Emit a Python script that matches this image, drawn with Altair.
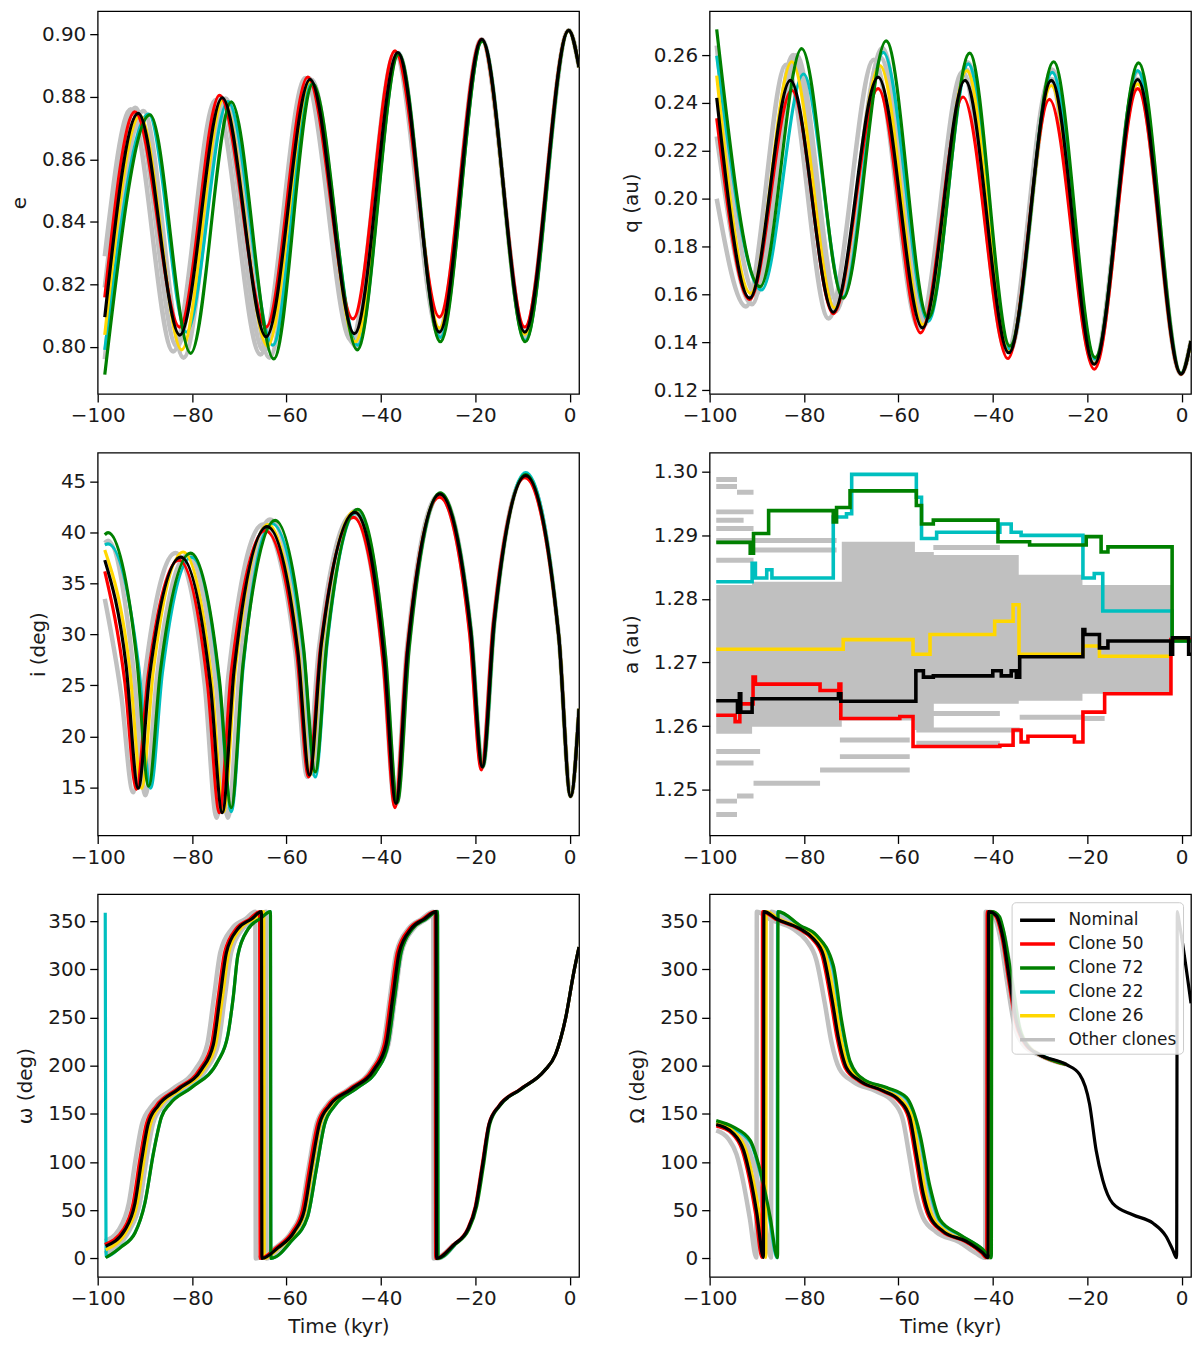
import altair as alt
import pandas as pd

# ---------------- shared ----------------
X_TICKS = [-100, -80, -60, -40, -20, 0]
X_DOMAIN = [-100, 2.0]
SERIES = ["Nominal", "Clone 50", "Clone 72", "Clone 22", "Clone 26", "Other clones"]
COLORS = ["#000000", "#ff0000", "#008000", "#00bfbf", "#ffd700", "#c0c0c0"]
DRAW_ORDER = ["Clone 22", "Clone 26", "Clone 50", "Clone 72", "Nominal"]

# ---------------- eccentricity e ----------------
E_NOM = [(-98.5,0.8095),(-91.4,0.8747),(-82.6,0.8037),(-73.6,0.8797),(-64.3,0.8032),(-55.0,0.8856),(-45.6,0.8042),(-36.4,0.8942),(-27.6,0.8047),(-18.6,0.8984),(-9.5,0.8047),(-0.2,0.9013),(2.0,0.8895)]
E_C50 = [(-98.5,0.8158),(-92.1,0.8752),(-82.6,0.8063),(-74.2,0.8805),(-64.3,0.8063),(-55.5,0.8863),(-45.9,0.8089),(-37.0,0.8947),(-27.6,0.8095),(-18.7,0.8984),(-9.5,0.8063),(-0.2,0.9013),(2.0,0.8895)]
E_C72 = [(-98.5,0.7911),(-88.9,0.8742),(-80.3,0.7979),(-71.7,0.8784),(-62.7,0.7961),(-54.4,0.8842),(-45.0,0.7990),(-36.2,0.8937),(-27.4,0.8016),(-18.5,0.8978),(-9.4,0.8016),(-0.2,0.9013),(2.0,0.8895)]
E_C22 = [(-98.5,0.7990),(-89.2,0.8745),(-81.2,0.8047),(-72.4,0.8785),(-62.9,0.8005),(-54.8,0.8850),(-44.9,0.8005),(-36.3,0.8940),(-27.4,0.8030),(-18.5,0.8980),(-9.4,0.8020),(-0.2,0.9013),(2.0,0.8895)]
E_C26 = [(-98.5,0.8038),(-91.0,0.8740),(-82.2,0.7990),(-73.4,0.8790),(-64.0,0.8002),(-55.0,0.8850),(-45.4,0.8016),(-36.4,0.8940),(-27.6,0.8060),(-18.6,0.8982),(-9.5,0.8040),(-0.2,0.9013),(2.0,0.8895)]
E_G1 = [(-98.5,0.8290),(-93.0,0.8760),(-84.0,0.7985),(-75.0,0.8790),(-65.5,0.7975),(-56.0,0.8860),(-46.3,0.8020),(-37.0,0.8940),(-27.8,0.8050),(-18.7,0.8984),(-9.5,0.8047),(-0.2,0.9013),(2.0,0.8895)]
E_G2 = [(-98.5,0.7960),(-90.3,0.8755),(-81.8,0.7965),(-72.9,0.8795),(-63.6,0.7965),(-54.7,0.8855),(-45.3,0.8000),(-36.3,0.8940),(-27.5,0.8030),(-18.6,0.8982),(-9.4,0.8030),(-0.2,0.9013),(2.0,0.8895)]
E_G3 = [(-98.5,0.8190),(-92.0,0.8765),(-83.2,0.8000),(-74.0,0.8800),(-64.8,0.7985),(-55.3,0.8860),(-45.8,0.8010),(-36.6,0.8940),(-27.6,0.8040),(-18.6,0.8984),(-9.5,0.8045),(-0.2,0.9013),(2.0,0.8895)]

# ---------------- perihelion q ----------------
Q_NOM = [(-98.5,0.2421),(-91.5,0.1585),(-82.9,0.2494),(-73.8,0.1526),(-64.3,0.2508),(-54.9,0.1461),(-45.9,0.2494),(-36.6,0.1357),(-27.6,0.2494),(-18.5,0.1309),(-9.3,0.2498),(-0.1,0.1268),(2.0,0.1406)]
Q_C50 = [(-98.5,0.2336),(-91.5,0.1580),(-82.6,0.2453),(-73.8,0.1520),(-64.3,0.2460),(-55.3,0.1440),(-46.3,0.2425),(-36.8,0.1333),(-28.0,0.2415),(-18.5,0.1288),(-9.3,0.2460),(-0.1,0.1268),(2.0,0.1406)]
Q_C72 = [(-98.5,0.2707),(-89.3,0.1633),(-80.5,0.2627),(-71.7,0.1585),(-62.6,0.2659),(-53.7,0.1502),(-44.9,0.2608),(-36.4,0.1385),(-27.1,0.2572),(-18.3,0.1337),(-9.1,0.2567),(-0.1,0.1270),(2.0,0.1406)]
Q_C22 = [(-98.5,0.2597),(-89.0,0.1619),(-80.1,0.2521),(-71.7,0.1590),(-63.2,0.2611),(-53.7,0.1488),(-45.2,0.2563),(-36.4,0.1370),(-27.4,0.2528),(-18.3,0.1330),(-9.3,0.2535),(-0.1,0.1270),(2.0,0.1406)]
Q_C26 = [(-98.5,0.2514),(-91.3,0.1605),(-82.6,0.2572),(-73.5,0.1543),(-63.9,0.2556),(-54.8,0.1474),(-45.5,0.2535),(-36.6,0.1360),(-27.6,0.2473),(-18.5,0.1310),(-9.3,0.2480),(-0.1,0.1268),(2.0,0.1406)]
Q_G1 = [(-98.5,0.2000),(-92.3,0.1550),(-83.8,0.2560),(-74.8,0.1500),(-65.2,0.2580),(-55.6,0.1460),(-46.4,0.2530),(-37.0,0.1360),(-27.9,0.2500),(-18.6,0.1310),(-9.4,0.2500),(-0.1,0.1268),(2.0,0.1406)]
Q_G2 = [(-98.5,0.2640),(-90.2,0.1600),(-81.6,0.2600),(-72.8,0.1560),(-63.4,0.2630),(-54.3,0.1490),(-45.3,0.2570),(-36.5,0.1370),(-27.4,0.2540),(-18.4,0.1320),(-9.2,0.2530),(-0.1,0.1270),(2.0,0.1406)]
Q_G3 = [(-98.5,0.2260),(-91.0,0.1560),(-82.3,0.2600),(-73.3,0.1530),(-63.8,0.2590),(-54.6,0.1470),(-45.6,0.2540),(-36.5,0.1360),(-27.5,0.2500),(-18.5,0.1310),(-9.3,0.2500),(-0.1,0.1268),(2.0,0.1406)]

# ---------------- inclination i ----------------
I_NOM = [(-98.5,37.3),(-94.0,27.0),(-91.4,14.9),(-89.0,26.0),(-82.4,37.6),(-76.1,25.0),(-73.6,12.5),(-71.1,26.5),(-64.1,40.6),(-57.6,28.4),(-55.1,16.2),(-52.6,29.1),(-45.5,42.0),(-39.3,27.7),(-36.8,13.4),(-34.3,28.6),(-27.5,43.8),(-21.0,30.4),(-18.5,17.0),(-16.0,31.3),(-9.3,45.6),(-2.3,29.8),(0.2,14.1),(2.0,22.7)]
I_C50 = [(-98.5,36.2),(-94.3,25.5),(-91.8,14.8),(-89.3,26.0),(-82.8,37.3),(-76.7,25.0),(-74.2,12.5),(-71.7,26.3),(-64.5,40.2),(-57.8,28.1),(-55.3,16.0),(-52.8,28.7),(-45.8,41.5),(-39.5,27.2),(-37.0,13.0),(-34.5,28.2),(-27.6,43.5),(-21.2,30.1),(-18.7,16.7),(-16.2,31.0),(-9.5,45.4),(-2.3,29.8),(0.2,14.1),(2.0,22.7)]
I_C72 = [(-98.5,39.8),(-97.8,40.0),(-91.7,27.5),(-89.2,15.1),(-86.7,26.5),(-80.3,38.0),(-74.2,25.5),(-71.7,13.0),(-69.2,27.1),(-62.4,41.2),(-56.4,28.8),(-53.9,16.5),(-51.4,29.4),(-44.9,42.3),(-39.0,27.9),(-36.5,13.5),(-34.0,28.7),(-27.4,43.9),(-20.9,30.4),(-18.4,17.0),(-15.9,31.3),(-9.3,45.7),(-2.3,29.8),(0.2,14.1),(2.0,22.7)]
I_C22 = [(-98.5,38.8),(-97.8,38.9),(-91.3,26.8),(-88.8,14.9),(-86.3,26.2),(-80.1,37.6),(-74.2,25.1),(-71.7,12.6),(-69.2,26.7),(-63.1,40.9),(-56.4,28.4),(-53.9,16.0),(-51.4,29.0),(-45.2,42.0),(-39.1,27.7),(-36.6,13.5),(-34.1,28.7),(-27.4,43.8),(-20.9,30.4),(-18.4,17.0),(-15.9,31.4),(-9.3,45.9),(-2.3,29.9),(0.2,14.1),(2.0,22.7)]
I_C26 = [(-98.5,38.3),(-93.2,26.6),(-90.7,14.9),(-88.2,26.5),(-81.9,38.1),(-75.8,25.3),(-73.3,12.6),(-70.8,26.7),(-63.9,40.8),(-57.5,28.5),(-55.0,16.2),(-52.5,29.0),(-45.6,42.1),(-39.3,27.7),(-36.8,13.4),(-34.3,28.6),(-27.5,43.8),(-21.0,30.4),(-18.5,17.0),(-16.0,31.3),(-9.3,45.6),(-2.3,29.8),(0.2,14.1),(2.0,22.7)]
I_G1 = [(-98.5,33.5),(-95.0,24.0),(-92.5,14.5),(-90.0,26.0),(-83.5,38.0),(-77.3,25.0),(-74.8,12.0),(-72.3,26.0),(-65.0,40.8),(-58.1,28.2),(-55.6,16.0),(-53.1,28.7),(-46.0,41.8),(-39.5,27.5),(-37.0,13.2),(-34.5,28.5),(-27.7,43.7),(-21.1,30.4),(-18.6,17.0),(-16.1,31.3),(-9.3,45.6),(-2.3,29.8),(0.2,14.1),(2.0,22.7)]
I_G2 = [(-98.5,39.0),(-97.8,39.2),(-92.4,26.5),(-89.9,14.2),(-87.4,26.0),(-81.0,37.8),(-74.9,25.0),(-72.4,12.0),(-69.9,26.6),(-63.5,41.3),(-56.9,28.8),(-54.4,16.3),(-51.9,29.3),(-45.2,42.2),(-39.1,27.8),(-36.6,13.4),(-34.1,28.6),(-27.4,43.8),(-20.9,30.4),(-18.4,17.0),(-15.9,31.3),(-9.3,45.7),(-2.3,29.8),(0.2,14.1),(2.0,22.7)]

# ---------------- semi-major axis a (steps) ----------------
A_NOM = [(-98.6,1.2640),(-94.1,1.2622),(-93.7,1.2651),(-93.4,1.2622),(-91.0,1.2643),(-72.7,1.2651),(-72.2,1.2639),(-56.3,1.2687),(-54.7,1.2677),(-52.6,1.2679),(-40.0,1.2687),(-38.2,1.2679),(-36.1,1.2687),(-35.0,1.2677),(-34.3,1.2709),(-20.9,1.2752),(-20.5,1.2744),(-17.4,1.2723),(-15.6,1.2734),(-2.3,1.2713),(-1.9,1.2739),(1.5,1.2713),(2.0,1.2713)]
A_C50 = [(-98.6,1.2617),(-94.6,1.2607),(-93.6,1.2635),(-90.8,1.2677),(-90.3,1.2666),(-76.6,1.2656),(-72.6,1.2666),(-72.2,1.2612),(-59.7,1.2615),(-56.9,1.2568),(-38.5,1.2570),(-35.7,1.2594),(-34.0,1.2575),(-32.55,1.2584),(-22.7,1.2575),(-20.9,1.2622),(-16.3,1.2651),(-2.25,1.2736),(2.0,1.2736)]
A_C72 = [(-98.6,1.2889),(-91.4,1.2872),(-90.7,1.2903),(-87.5,1.2939),(-73.8,1.2921),(-73.1,1.2944),(-70.25,1.2970),(-56.2,1.2947),(-55.1,1.2918),(-52.6,1.2924),(-38.9,1.2890),(-32.2,1.2885),(-20.2,1.2898),(-17.05,1.2874),(-15.6,1.2882),(-2.0,1.2734),(2.0,1.2734)]
A_C22 = [(-98.6,1.2827),(-91.0,1.2856),(-90.3,1.2833),(-87.9,1.2846),(-86.8,1.2833),(-73.8,1.2929),(-71.0,1.2934),(-69.9,1.2996),(-56.2,1.2960),(-55.1,1.2895),(-51.9,1.2905),(-38.5,1.2918),(-36.1,1.2905),(-34.0,1.2900),(-20.9,1.2833),(-18.5,1.2840),(-16.7,1.2781),(-2.0,1.2734),(2.0,1.2734)]
A_C26 = [(-98.6,1.2721),(-71.7,1.2736),(-56.9,1.2713),(-53.3,1.2744),(-39.6,1.2765),(-35.7,1.2791),(-34.45,1.2713),(-20.9,1.2726),(-17.4,1.2710),(-2.0,1.2710)]
# dense core of the other clones: (t, lower a, upper a)
A_BAND = [(-98.6,1.2588,1.2822),(-91.0,1.2599,1.2827),(-72.0,1.2609,1.2890),(-56.5,1.2594,1.2874),(-52.5,1.2635,1.2869),(-34.5,1.2640,1.2838),(-21.0,1.2651,1.2822),(-2.0,1.2651,1.2822)]
# outlying other clones: (t start, t end, a)
A_GRAY = [(-98.6,-94.2,1.2988),(-98.6,-94.2,1.2977),(-94.2,-90.7,1.2968),(-98.6,-90.7,1.2937),(-98.6,-92.8,1.2924),
          (-98.6,-90.7,1.2911),(-98.6,-73.1,1.2892),(-90.7,-73.1,1.2877),(-98.6,-90.7,1.2861),(-98.6,-94.2,1.2482),
          (-98.6,-94.2,1.2461),(-94.2,-90.7,1.2490),(-90.7,-76.6,1.2510),(-76.6,-57.6,1.2531),(-98.6,-89.3,1.2560),
          (-98.6,-90.7,1.2542),(-72.4,-57.6,1.2578),(-72.4,-57.6,1.2552),(-56.2,-38.5,1.2620),(-56.2,-34.3,1.2594),
          (-56.2,-38.5,1.2573),(-34.3,-20.9,1.2614),(-20.9,-16.3,1.2612),(-52.6,-38.5,1.2881),(-16.7,-2.0,1.2786)]

# ---------------- argument of perihelion omega ----------------
W_NOM = [(-98.3,12.7),(-94.2,29.9),(-92.1,57.3),(-90.7,101.9),(-89.3,139.7),(-87.2,158.5),(-82.9,175.7),(-78.0,196.3),(-75.5,222.0),(-74.1,270.1),(-72.7,318.1),(-70.3,342.1),(-67.4,352.4),(-65.3,360.0),(-65.2,0.0),(-61.8,11.0),(-58.3,28.1),(-56.2,50.4),(-54.8,91.6),(-53.0,139.7),(-50.9,158.5),(-46.3,175.7),(-41.4,196.3),(-38.9,222.0),(-37.5,270.1),(-36.1,318.1),(-33.6,342.1),(-30.8,352.4),(-28.3,360.0),(-28.2,0.0),(-24.5,14.4),(-21.6,29.9),(-19.9,53.9),(-18.5,95.1),(-17.05,139.7),(-14.9,158.5),(-10.4,175.7),(-5.4,194.6),(-3.0,211.7),(-0.85,249.5),(0.9,297.5),(2.0,323.3)]
W_C50 = [(-98.5,14.5),(-94.6,29.9),(-92.5,57.3),(-91.1,101.9),(-89.7,139.7),(-87.6,158.5),(-83.3,175.7),(-78.4,196.3),(-75.9,222.0),(-74.5,270.1),(-73.1,318.1),(-70.7,342.1),(-67.8,352.4),(-65.7,360.0),(-65.6,0.0),(-62.2,11.0),(-58.7,28.1),(-56.6,50.4),(-55.2,91.6),(-53.4,139.7),(-51.3,158.5),(-46.7,175.7),(-41.8,196.3),(-39.3,222.0),(-37.9,270.1),(-36.5,318.1),(-34.0,342.1),(-31.2,352.4),(-28.5,360.0),(-28.4,0.0),(-24.6,14.4),(-21.7,29.9),(-20.0,53.9),(-18.6,95.1),(-17.1,139.7),(-15.0,158.5),(-10.5,175.7),(-5.4,194.6),(-3.0,211.7),(-0.85,249.5),(0.9,297.5),(2.0,323.3)]
W_C72 = [(-98.3,0.7),(-95.0,12.0),(-92.1,26.4),(-90.0,57.3),(-88.2,108.8),(-86.5,146.5),(-84.7,160.3),(-80.1,177.4),(-74.5,204.9),(-72.4,232.3),(-71.3,270.1),(-70.3,314.7),(-68.1,342.1),(-65.5,353.0),(-63.4,360.0),(-63.3,0.0),(-59.0,17.8),(-55.5,43.6),(-53.7,91.6),(-51.9,139.7),(-49.8,158.5),(-44.9,177.4),(-40.7,196.3),(-38.5,222.0),(-37.1,270.1),(-35.7,318.1),(-33.3,342.1),(-30.4,352.4),(-28.0,360.0),(-27.9,0.0),(-24.3,14.4),(-21.4,29.9),(-19.7,53.9),(-18.3,95.1),(-16.9,139.7),(-14.8,158.5),(-10.3,175.7),(-5.4,194.6),(-3.0,211.7),(-0.85,249.5),(0.9,297.5),(2.0,323.3)]
W_C22 = [(-98.4,359.0),(-98.2,2.0),(-95.0,12.5),(-92.1,26.8),(-90.0,57.8),(-88.2,109.5),(-86.5,147.0),(-84.7,160.8),(-80.1,177.8),(-74.5,205.3),(-72.4,232.8),(-71.3,270.6),(-70.3,315.0),(-68.1,342.3),(-65.5,353.0),(-63.4,360.0),(-63.3,0.0),(-59.0,17.8),(-55.5,43.6),(-53.7,91.6),(-51.9,139.7),(-49.8,158.5),(-44.9,177.4),(-40.7,196.3),(-38.5,222.0),(-37.1,270.1),(-35.7,318.1),(-33.3,342.1),(-30.4,352.4),(-28.0,360.0),(-27.9,0.0),(-24.3,14.4)]
W_C26 = [(-98.3,9.0),(-93.7,29.9),(-91.6,57.3),(-90.2,101.9),(-88.8,139.7),(-86.7,158.5),(-82.4,175.7),(-77.5,196.3),(-75.0,222.0),(-73.6,270.1),(-72.2,318.1),(-69.8,342.1),(-66.9,352.4),(-64.8,360.0),(-64.7,0.0),(-61.6,11.0),(-58.1,28.1),(-56.0,50.4),(-54.6,91.6),(-52.8,139.7),(-50.7,158.5),(-46.1,175.7),(-41.2,196.3),(-38.7,222.0),(-37.3,270.1),(-35.9,318.1),(-33.4,342.1),(-30.6,352.4),(-28.2,360.0),(-28.1,0.0),(-24.5,14.4)]
W_G1 = [(-98.5,18.0),(-95.5,29.9),(-93.4,57.3),(-92.0,101.9),(-90.6,139.7),(-88.5,158.5),(-84.2,175.7),(-79.3,196.3),(-76.8,222.0),(-75.4,270.1),(-74.0,318.1),(-71.6,342.1),(-68.7,352.4),(-66.6,360.0),(-66.5,0.0),(-62.4,11.0),(-58.9,28.1),(-56.8,50.4),(-55.4,91.6),(-53.6,139.7),(-51.5,158.5),(-46.9,175.7),(-42.0,196.3),(-39.5,222.0),(-38.1,270.1),(-36.7,318.1),(-34.2,342.1),(-31.4,352.4),(-28.9,360.0),(-28.8,0.0),(-24.6,14.4)]
W_G2 = [(-98.5,5.0),(-93.2,29.9),(-91.1,57.3),(-89.7,101.9),(-88.3,139.7),(-86.2,158.5),(-81.9,175.7),(-77.0,196.3),(-74.5,222.0),(-73.1,270.1),(-71.7,318.1),(-69.3,342.1),(-66.4,352.4),(-64.3,360.0),(-64.2,0.0),(-61.3,11.0),(-57.8,28.1),(-55.7,50.4),(-54.3,91.6),(-52.5,139.7),(-50.4,158.5),(-45.8,175.7),(-40.9,196.3),(-38.4,222.0),(-37.0,270.1),(-35.6,318.1),(-33.1,342.1),(-30.3,352.4),(-28.1,360.0),(-28.0,0.0),(-24.4,14.4)]

# ---------------- longitude of node Omega ----------------
O_NOM = [(-98.6,139.0),(-94.9,129.4),(-92.8,112.2),(-91.4,84.8),(-90.0,47.0),(-88.6,1.0),(-88.5,360.0),(-85.8,352.4),(-80.8,342.1),(-78.0,331.8),(-75.9,314.7),(-74.1,270.1),(-72.7,228.9),(-71.0,198.0),(-68.1,184.3),(-63.2,174.0),(-59.7,163.7),(-57.6,146.5),(-56.2,108.8),(-54.75,67.6),(-53.3,43.6),(-50.5,28.1),(-45.6,17.8),(-42.1,5.8),(-41.0,0.7),(-40.9,360.0),(-39.25,355.9),(-37.8,331.8),(-36.4,287.2),(-35.0,246.1),(-32.9,222.0),(-30.1,211.7),(-24.45,201.4),(-21.6,191.1),(-19.5,160.3),(-18.1,112.2),(-16.7,81.3),(-14.6,57.3),(-10.35,45.3),(-6.1,36.7),(-3.3,23.0),(-1.9,9.3),(-1.05,0.7),(-0.9,360.0),(-0.5,349.0),(2.0,264.9)]
O_C50 = [(-98.6,137.5),(-95.2,129.4),(-93.1,112.2),(-91.7,84.8),(-90.3,47.0),(-88.9,1.0),(-88.8,360.0),(-86.1,352.4),(-81.1,342.1),(-78.3,331.8),(-76.2,314.7),(-74.4,270.1),(-73.0,228.9),(-71.3,198.0),(-68.4,184.3),(-63.5,174.0),(-60.0,163.7),(-57.9,146.5),(-56.5,108.8),(-55.05,67.6),(-53.6,43.6),(-50.8,28.1),(-45.9,17.8),(-42.4,5.8),(-41.3,0.7),(-41.2,360.0),(-39.5,355.9),(-38.0,331.8),(-36.6,287.2),(-35.2,246.1),(-33.1,222.0),(-30.2,211.7),(-24.45,201.4)]
O_C72 = [(-98.6,143.1),(-94.9,136.2),(-91.4,122.5),(-89.3,91.6),(-87.2,43.6),(-85.6,0.7),(-85.5,360.0),(-80.8,345.6),(-77.3,335.3),(-73.8,304.4),(-72.0,246.1),(-70.25,204.9),(-67.4,186.0),(-62.5,177.4),(-58.3,167.1),(-55.45,129.4),(-53.3,74.5),(-51.2,40.2),(-47.0,24.7),(-42.1,9.3),(-40.3,0.7),(-40.2,360.0),(-38.6,355.0),(-37.8,342.1),(-36.1,294.1),(-34.3,239.2),(-32.2,218.6),(-30.1,211.7),(-24.45,201.4)]
O_C22 = [(-98.6,141.5),(-94.9,134.8),(-91.4,120.6),(-89.3,89.0),(-87.3,41.0),(-85.7,0.7),(-85.6,360.0),(-80.8,345.0),(-77.3,334.5),(-73.9,302.0),(-72.1,244.0),(-70.3,203.5),(-67.4,185.5),(-62.5,177.0),(-58.3,166.0),(-55.5,127.0),(-53.4,72.0),(-51.3,39.5),(-47.0,24.3),(-42.1,9.0),(-40.4,0.7),(-40.3,360.0),(-38.7,354.0),(-37.9,341.0),(-36.2,292.0),(-34.4,238.0),(-32.2,218.0),(-30.1,211.7),(-24.45,201.4)]
O_C26 = [(-98.6,140.5),(-94.4,129.4),(-92.3,112.2),(-90.9,84.8),(-89.5,47.0),(-88.1,1.0),(-88.0,360.0),(-85.3,352.4),(-80.3,342.1),(-77.5,331.8),(-75.4,314.7),(-73.6,270.1),(-72.2,228.9),(-70.5,198.0),(-67.6,184.3),(-62.7,174.0),(-59.2,163.7),(-57.1,146.5),(-55.7,108.8),(-54.25,67.6),(-52.8,43.6),(-50.0,28.1),(-45.1,17.8),(-41.6,5.8),(-40.6,0.7),(-40.5,360.0),(-39.0,355.9),(-37.6,331.8),(-36.2,287.2),(-34.8,246.1),(-32.7,222.0),(-30.1,211.7),(-24.45,201.4)]
O_G1 = [(-98.6,133.0),(-96.0,124.0),(-94.3,108.0),(-92.9,80.0),(-91.5,42.0),(-90.1,1.0),(-90.0,360.0),(-87.3,352.4),(-82.3,342.1),(-79.5,330.0),(-77.4,310.0),(-75.6,265.0),(-74.2,225.0),(-72.5,197.0),(-69.6,183.5),(-64.7,173.5),(-61.2,163.0),(-59.1,145.0),(-57.7,107.0),(-56.25,66.0),(-54.8,42.5),(-52.0,27.5),(-47.1,17.0),(-43.6,5.5),(-41.6,0.7),(-41.5,360.0),(-39.8,355.5),(-38.3,330.0),(-36.9,285.0),(-35.5,244.0),(-33.4,221.0),(-30.3,211.5),(-24.45,201.4)]
O_G2 = [(-98.6,141.0),(-94.9,133.0),(-92.0,117.0),(-90.2,88.0),(-88.5,45.0),(-87.0,1.0),(-86.9,360.0),(-83.0,349.0),(-79.0,339.0),(-75.3,320.0),(-73.2,262.0),(-71.6,222.0),(-68.8,186.0),(-63.0,176.0),(-58.8,165.5),(-56.3,130.0),(-54.3,75.0),(-51.5,37.0),(-46.8,22.0),(-42.5,8.0),(-40.7,0.7),(-40.6,360.0),(-39.0,354.0),(-37.6,335.0),(-36.0,290.0),(-34.5,243.0),(-32.5,220.5),(-30.1,211.7),(-24.45,201.4)]

W, H = 483, 384
FONT_SIZE = 20


def make_df(named, grays):
    rows = []
    for name, pts in named:
        for t, v in pts:
            rows.append({"t": t, "v": v, "series": name, "member": name})
    for k, pts in enumerate(grays):
        for t, v in pts:
            rows.append({"t": t, "v": v, "series": "Other clones", "member": "g%d" % k})
    return pd.DataFrame(rows)


def x_enc(title, field="t:Q"):
    return alt.X(field, scale=alt.Scale(domain=X_DOMAIN, nice=False, zero=False),
                 axis=alt.Axis(values=X_TICKS, format="d", title=title, labelFlush=False))


def y_enc(dom, ticks, fmt, title, field="v:Q"):
    return alt.Y(field, scale=alt.Scale(domain=dom, nice=False, zero=False),
                 axis=alt.Axis(values=ticks, format=fmt, title=title))


def color_enc(legend):
    return alt.Color("series:N", scale=alt.Scale(domain=SERIES, range=COLORS), legend=legend)


def osc_panel(named, grays, dom, ticks, fmt, ytitle, xtitle=None, legend=None):
    df = make_df(named, grays)
    base = alt.Chart(df)
    X = x_enc(xtitle)
    Y = y_enc(dom, ticks, fmt, ytitle)
    C = color_enc(legend)
    layers = [base.transform_filter(alt.datum.series == "Other clones")
              .mark_line(interpolate="monotone", strokeWidth=4.5, clip=True)
              .encode(x=X, y=Y, color=C, detail="member:N")]
    for name in DRAW_ORDER:
        layers.append(base.transform_filter(alt.datum.series == name)
                      .mark_line(interpolate="monotone", strokeWidth=3.2, clip=True)
                      .encode(x=X, y=Y, color=C, detail="member:N"))
    return alt.layer(*layers).properties(width=W, height=H)


LEGEND = alt.Legend(title=None, orient="top-right", offset=8, zindex=0,
                    symbolType="M-1.75,0L1.75,0", symbolSize=400, symbolStrokeWidth=3.5,
                    symbolOffset=8, labelOffset=19, labelFont="DejaVu Sans", labelFontSize=17,
                    labelColor="#1a1a1a", padding=6, rowPadding=4,
                    fillColor="rgba(255,255,255,0.85)", strokeColor="#cccccc", cornerRadius=4)

p_e = osc_panel([("Nominal", E_NOM), ("Clone 50", E_C50), ("Clone 72", E_C72), ("Clone 22", E_C22), ("Clone 26", E_C26)],
                [E_G1, E_G2, E_G3], [0.7849, 0.9074], [0.80, 0.82, 0.84, 0.86, 0.88, 0.90], ".2f", "e")
p_q = osc_panel([("Nominal", Q_NOM), ("Clone 50", Q_C50), ("Clone 72", Q_C72), ("Clone 22", Q_C22), ("Clone 26", Q_C26)],
                [Q_G1, Q_G2, Q_G3], [0.1185, 0.2783], [0.12, 0.14, 0.16, 0.18, 0.20, 0.22, 0.24, 0.26], ".2f", "q (au)")
p_i = osc_panel([("Nominal", I_NOM), ("Clone 50", I_C50), ("Clone 72", I_C72), ("Clone 22", I_C22), ("Clone 26", I_C26)],
                [I_G1, I_G2], [10.26, 47.85], [15, 20, 25, 30, 35, 40, 45], "d", "i (deg)")
ANG_TICKS = [0, 50, 100, 150, 200, 250, 300, 350]
p_w = osc_panel([("Nominal", W_NOM), ("Clone 50", W_C50), ("Clone 72", W_C72), ("Clone 22", W_C22), ("Clone 26", W_C26)],
                [W_G1, W_G2], [-19.25, 378.1], ANG_TICKS, "d", "ω (deg)", xtitle="Time (kyr)")
p_o = osc_panel([("Nominal", O_NOM), ("Clone 50", O_C50), ("Clone 72", O_C72), ("Clone 22", O_C22), ("Clone 26", O_C26)],
                [O_G1, O_G2], [-19.25, 378.1], ANG_TICKS, "d", "Ω (deg)", xtitle="Time (kyr)", legend=LEGEND)

# a panel
A_DOM = [1.2428, 1.3030]
A_TICKS = [1.25, 1.26, 1.27, 1.28, 1.29, 1.30]
a_df = make_df([("Nominal", A_NOM), ("Clone 50", A_C50), ("Clone 72", A_C72), ("Clone 22", A_C22), ("Clone 26", A_C26)], [])
band_df = pd.DataFrame(A_BAND, columns=["t", "lo", "hi"])
seg_df = pd.DataFrame(A_GRAY, columns=["t0", "t1", "v"])
AX = x_enc(None)
AY = y_enc(A_DOM, A_TICKS, ".2f", "a (au)")
a_layers = [
    alt.Chart(band_df).mark_area(interpolate="step-after", color="#c0c0c0", clip=True).encode(
        x=x_enc(None), y=y_enc(A_DOM, A_TICKS, ".2f", "a (au)", field="hi:Q"), y2="lo:Q"),
    alt.Chart(seg_df).mark_rule(strokeWidth=5, color="#c0c0c0", clip=True).encode(
        x=x_enc(None, field="t0:Q"), x2="t1:Q", y=y_enc(A_DOM, A_TICKS, ".2f", "a (au)")),
]
a_base = alt.Chart(a_df)
for name in DRAW_ORDER:
    a_layers.append(a_base.transform_filter(alt.datum.series == name)
                    .mark_line(interpolate="step-after", strokeWidth=3.6, clip=True)
                    .encode(x=AX, y=AY, color=color_enc(None), detail="member:N"))
p_a = alt.layer(*a_layers).properties(width=W, height=H)

chart = alt.concat(p_e, p_q, p_i, p_a, p_w, p_o, columns=2,
                   spacing={"row": 25, "column": 40}, align="each").resolve_scale(
    color="independent").properties(
    padding={"left": 0, "top": 0, "right": 0, "bottom": 0}, background="white"
).configure(font="DejaVu Sans").configure_view(
    stroke="#000000", strokeWidth=1.3
).configure_axis(
    grid=False, domain=False, tickSize=8, tickWidth=1.3, tickColor="#000000",
    labelFont="DejaVu Sans", labelFontSize=FONT_SIZE, labelColor="#1a1a1a", labelPadding=4,
    titleFont="DejaVu Sans", titleFontSize=FONT_SIZE, titleFontWeight="normal", titleColor="#1a1a1a"
).configure_axisX(titlePadding=8).configure_axisY(titlePadding=12)

chart.save("out.html", embed_options={"renderer": "svg", "actions": False})
